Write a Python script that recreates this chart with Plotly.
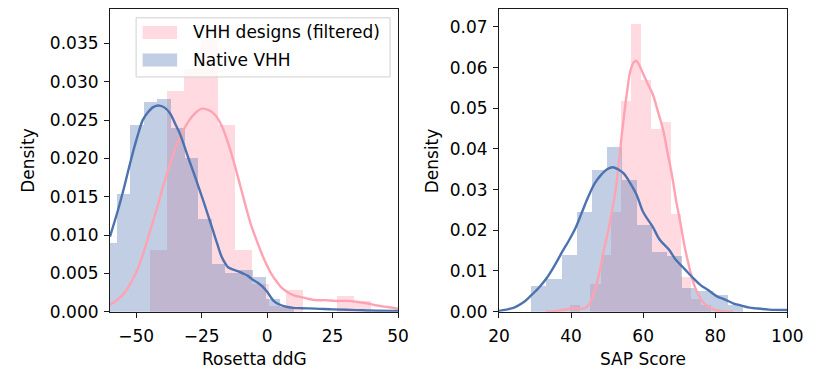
import plotly.graph_objects as go
from plotly.subplots import make_subplots

# ---------------- data ----------------
# Left panel: Rosetta ddG
ddg_design_edges = [-44.7, -38.2, -31.7, -25.3, -18.8, -12.3, -5.8, 0.7, 7.2, 13.7, 20.2, 26.7, 33.2, 39.6]
ddg_design_density = [0.0081, 0.0288, 0.0317, 0.0354, 0.0243, 0.0081, 0.0036, 0.0007, 0.0028, 0.0, 0.0, 0.0020, 0.0014]

ddg_native_edges = [-62.7, -57.5, -52.3, -47.1, -41.9, -36.7, -31.5, -26.3, -21.1, -15.9, -10.7, -5.5, -0.3, 4.9, 10.1]
ddg_native_density = [0.0090, 0.0154, 0.0243, 0.0273, 0.0278, 0.0240, 0.0200, 0.0121, 0.0062, 0.0050, 0.0054, 0.0045, 0.0017, 0.0006]

ddg_native_kde_x = [-60, -57, -54.4, -52, -49.5, -47.5, -45.8, -43.5, -41.1, -39, -37.1, -35.2, -33.4, -31.5,
                    -29.7, -27.8, -26, -24.1, -22.3, -20.5, -19.0, -17.4, -16, -14.9, -13, -11.2, -9.3, -7.5,
                    -5.6, -3.7, -1.85, 0, 1.2, 2.5, 4.3, 6.8, 10, 13, 18.5, 25, 34, 42, 50]
ddg_native_kde_y = [0.0098, 0.0132, 0.0165, 0.0198, 0.0229, 0.0250, 0.0259, 0.0267, 0.0269, 0.0266, 0.0259,
                    0.0246, 0.0233, 0.0215, 0.0197, 0.0179, 0.0161, 0.0142, 0.0123, 0.0104, 0.0088, 0.0072,
                    0.0063, 0.0058, 0.0055, 0.0053, 0.0050, 0.0047, 0.0042, 0.0038, 0.0033, 0.0026, 0.0020,
                    0.0014, 0.0010, 0.0007, 0.0005, 0.00045, 0.0004, 0.0003, 0.0002, 0.00012, 0.0001]

ddg_design_kde_x = [-60, -57, -54.4, -52, -49.5, -47, -44.6, -42, -39.6, -37, -34.7, -32.2, -29.7, -27.2, -24.8,
                    -22.3, -19.9, -17.4, -14.9, -12.5, -10, -8.2, -6.3, -4, -1.85, 0, 1.85, 3.7, 5.6, 8, 10.5,
                    13, 15.4, 18.5, 22, 26, 30, 34, 38, 42, 46, 50]
ddg_design_kde_y = [0.0009, 0.0016, 0.0025, 0.0038, 0.0055, 0.0079, 0.0106, 0.0136, 0.0165, 0.0193, 0.0216,
                    0.0235, 0.0250, 0.0260, 0.0265, 0.0263, 0.0257, 0.0243, 0.0220, 0.0193, 0.0161, 0.0138,
                    0.0115, 0.0093, 0.0074, 0.0060, 0.0048, 0.0039, 0.0031, 0.0025, 0.0021, 0.0019, 0.0017,
                    0.0015, 0.0015, 0.0014, 0.0014, 0.0013, 0.0011, 0.0008, 0.0006, 0.0004]

# Right panel: SAP score
sap_design_edges = [39.79, 42.58, 45.37, 48.16, 50.95, 53.74, 56.53, 59.32, 62.11, 64.90, 67.69, 70.48, 73.27, 76.06, 78.85]
sap_design_density = [0.0016, 0.0, 0.0068, 0.0139, 0.0245, 0.0517, 0.0708, 0.0570, 0.0448, 0.0467, 0.0239, 0.0084, 0.0030, 0.0015]

sap_native_edges = [28.97, 33.16, 37.35, 41.54, 45.73, 49.92, 54.11, 58.30, 62.49, 66.68, 70.87, 75.06, 79.25, 83.44, 87.63]
sap_native_density = [0.0064, 0.0080, 0.0139, 0.0246, 0.0349, 0.0405, 0.0323, 0.0213, 0.0146, 0.0136, 0.0058, 0.0050, 0.0040, 0.0016]

sap_native_kde_x = [20, 22, 24.2, 26.5, 28.7, 31, 33.2, 35.4, 37.6, 39.4, 41.2, 43, 44.8, 46.6, 48.4, 50, 51.6, 53,
                    54.6, 56.4, 58.2, 60, 62.7, 64.5, 67.2, 69, 71.6, 73.4, 76.1, 77.9, 80.6, 82.4, 85.1, 86.8,
                    89.5, 91.3, 94.9, 100]
sap_native_kde_y = [0.0002, 0.0005, 0.0010, 0.0021, 0.0038, 0.0058, 0.0082, 0.0113, 0.0148, 0.0175, 0.0205,
                    0.0244, 0.0283, 0.0316, 0.0337, 0.0350, 0.0355, 0.0350, 0.0340, 0.0316, 0.0287, 0.0245,
                    0.0208, 0.0178, 0.0152, 0.0128, 0.0104, 0.0087, 0.0064, 0.0054, 0.0037, 0.0031, 0.0020,
                    0.0016, 0.0010, 0.0008, 0.0005, 0.0004]

sap_design_kde_x = [33, 36, 39, 41, 42.6, 44, 45.2, 46.2, 47.2, 48.3, 49.3, 50.3, 51.3, 52.3, 53.2, 54, 54.8,
                    55.6, 56.4, 57.3, 58, 58.8, 60, 61.3, 62.7, 64, 65.4, 66.8, 68.1, 69.2, 70.3, 71.4, 72.5,
                    73.4, 74.3, 75.5, 77, 78.5, 80, 82, 85]
sap_design_kde_y = [0.0, 0.0002, 0.0006, 0.0009, 0.0007, 0.0009, 0.0020, 0.0042, 0.0072, 0.0115, 0.0160,
                    0.0198, 0.0245, 0.0295, 0.0360, 0.0430, 0.0490, 0.0545, 0.0590, 0.0612, 0.0617, 0.0608,
                    0.0585, 0.0560, 0.0534, 0.0495, 0.0452, 0.0390, 0.0330, 0.0270, 0.0220, 0.0165, 0.0120,
                    0.0088, 0.0062, 0.0038, 0.0020, 0.0010, 0.0004, 0.0001, 0.0]

legend_labels = ["VHH designs (filtered)", "Native VHH"]
x_titles = ["Rosetta ddG", "SAP Score"]
y_title = "Density"

# ---------------- styles ----------------
W, H = 834, 383
FONT = "DejaVu Sans"
FS = 17
PINK_BAR = "rgba(255,182,193,0.5)"
BLUE_BAR = "rgba(76,114,176,0.35)"
PINK_LINE = "#ffa3b2"
BLUE_LINE = "#4c72b0"


def centers_widths(edges):
    c = [(edges[i] + edges[i + 1]) / 2 for i in range(len(edges) - 1)]
    w = [(edges[i + 1] - edges[i]) for i in range(len(edges) - 1)]
    return c, w


def px_x(p):
    return p / W


def px_y(p):
    return (H - p) / H


fig = make_subplots(rows=1, cols=2)

panels = [
    (1, ddg_design_edges, ddg_design_density, ddg_native_edges, ddg_native_density,
     ddg_design_kde_x, ddg_design_kde_y, ddg_native_kde_x, ddg_native_kde_y),
    (2, sap_design_edges, sap_design_density, sap_native_edges, sap_native_density,
     sap_design_kde_x, sap_design_kde_y, sap_native_kde_x, sap_native_kde_y),
]

for col, de, dd, ne, nd, dkx, dky, nkx, nky in panels:
    c, w = centers_widths(de)
    fig.add_trace(go.Bar(x=c, y=dd, width=w, marker=dict(color=PINK_BAR, line=dict(width=0)),
                         name=legend_labels[0], showlegend=False), row=1, col=col)
    c, w = centers_widths(ne)
    fig.add_trace(go.Bar(x=c, y=nd, width=w, marker=dict(color=BLUE_BAR, line=dict(width=0)),
                         name=legend_labels[1], showlegend=False), row=1, col=col)
    fig.add_trace(go.Scatter(x=dkx, y=dky, mode="lines", line=dict(color=PINK_LINE, width=2.4, shape="spline"),
                             showlegend=False, hoverinfo="skip"), row=1, col=col)
    fig.add_trace(go.Scatter(x=nkx, y=nky, mode="lines", line=dict(color=BLUE_LINE, width=2.4, shape="spline"),
                             showlegend=False, hoverinfo="skip"), row=1, col=col)

axis_common = dict(showline=True, mirror=True, linecolor="#1a1a1a", linewidth=1.1,
                   ticks="outside", ticklen=5, tickwidth=1.1, tickcolor="#1a1a1a",
                   showgrid=False, zeroline=False,
                   tickfont=dict(family=FONT, size=FS, color="black"))

fig.update_layout(
    width=W, height=H, margin=dict(l=0, r=0, t=0, b=0),
    paper_bgcolor="white", plot_bgcolor="white", barmode="overlay", bargap=0,
    showlegend=False,
    xaxis=dict(domain=[px_x(102.3), px_x(400)], range=[-60, 50], tickvals=[-50, -25, 0, 25, 50],
               ticklabelstandoff=4, **axis_common),
    yaxis=dict(domain=[px_y(320), px_y(9.3)], range=[0, 0.0395], tickvals=[0, 0.005, 0.01, 0.015, 0.02, 0.025, 0.03, 0.035],
               tickformat=".3f", ticklabelstandoff=2, **axis_common),
    xaxis2=dict(domain=[px_x(504.3), px_x(802.3)], range=[20, 100], tickvals=[20, 40, 60, 80, 100],
                ticklabelstandoff=4, **axis_common),
    yaxis2=dict(domain=[px_y(320), px_y(9.3)], range=[0, 0.0744], tickvals=[0, 0.01, 0.02, 0.03, 0.04, 0.05, 0.06, 0.07],
                tickformat=".2f", ticklabelstandoff=2, **axis_common),
)

# axis titles
for xc, t in [((102.3 + 400) / 2, x_titles[0]), ((504.3 + 802.3) / 2, x_titles[1])]:
    fig.add_annotation(x=px_x(xc), y=px_y(369), xref="paper", yref="paper", text=t, showarrow=False,
                       font=dict(family=FONT, size=FS, color="black"), xanchor="center", yanchor="middle")
for xc in [18, 436]:
    fig.add_annotation(x=px_x(xc), y=px_y(164.7), xref="paper", yref="paper", text=y_title, showarrow=False,
                       textangle=-90, font=dict(family=FONT, size=FS, color="black"),
                       xanchor="center", yanchor="middle")

# legend (drawn like matplotlib's)
fig.add_shape(type="rect", xref="paper", yref="paper", x0=px_x(129.3), x1=px_x(391.7), y0=px_y(79), y1=px_y(18.3),
              line=dict(color="#d0d0d0", width=1), fillcolor="rgba(255,255,255,0.8)", layer="above")
for (y0, y1, colr, lab, yc) in [(40, 26.7, PINK_BAR, legend_labels[0], 33.3),
                                 (68.3, 55, BLUE_BAR, legend_labels[1], 61.7)]:
    fig.add_shape(type="rect", xref="paper", yref="paper", x0=px_x(136), x1=px_x(171.7), y0=px_y(y0), y1=px_y(y1),
                  line=dict(width=0), fillcolor=colr, layer="above")
    fig.add_annotation(x=px_x(186), y=px_y(yc), xref="paper", yref="paper", text=lab, showarrow=False,
                       font=dict(family=FONT, size=FS, color="black"), xanchor="left", yanchor="middle")

fig.write_html("out.html")
